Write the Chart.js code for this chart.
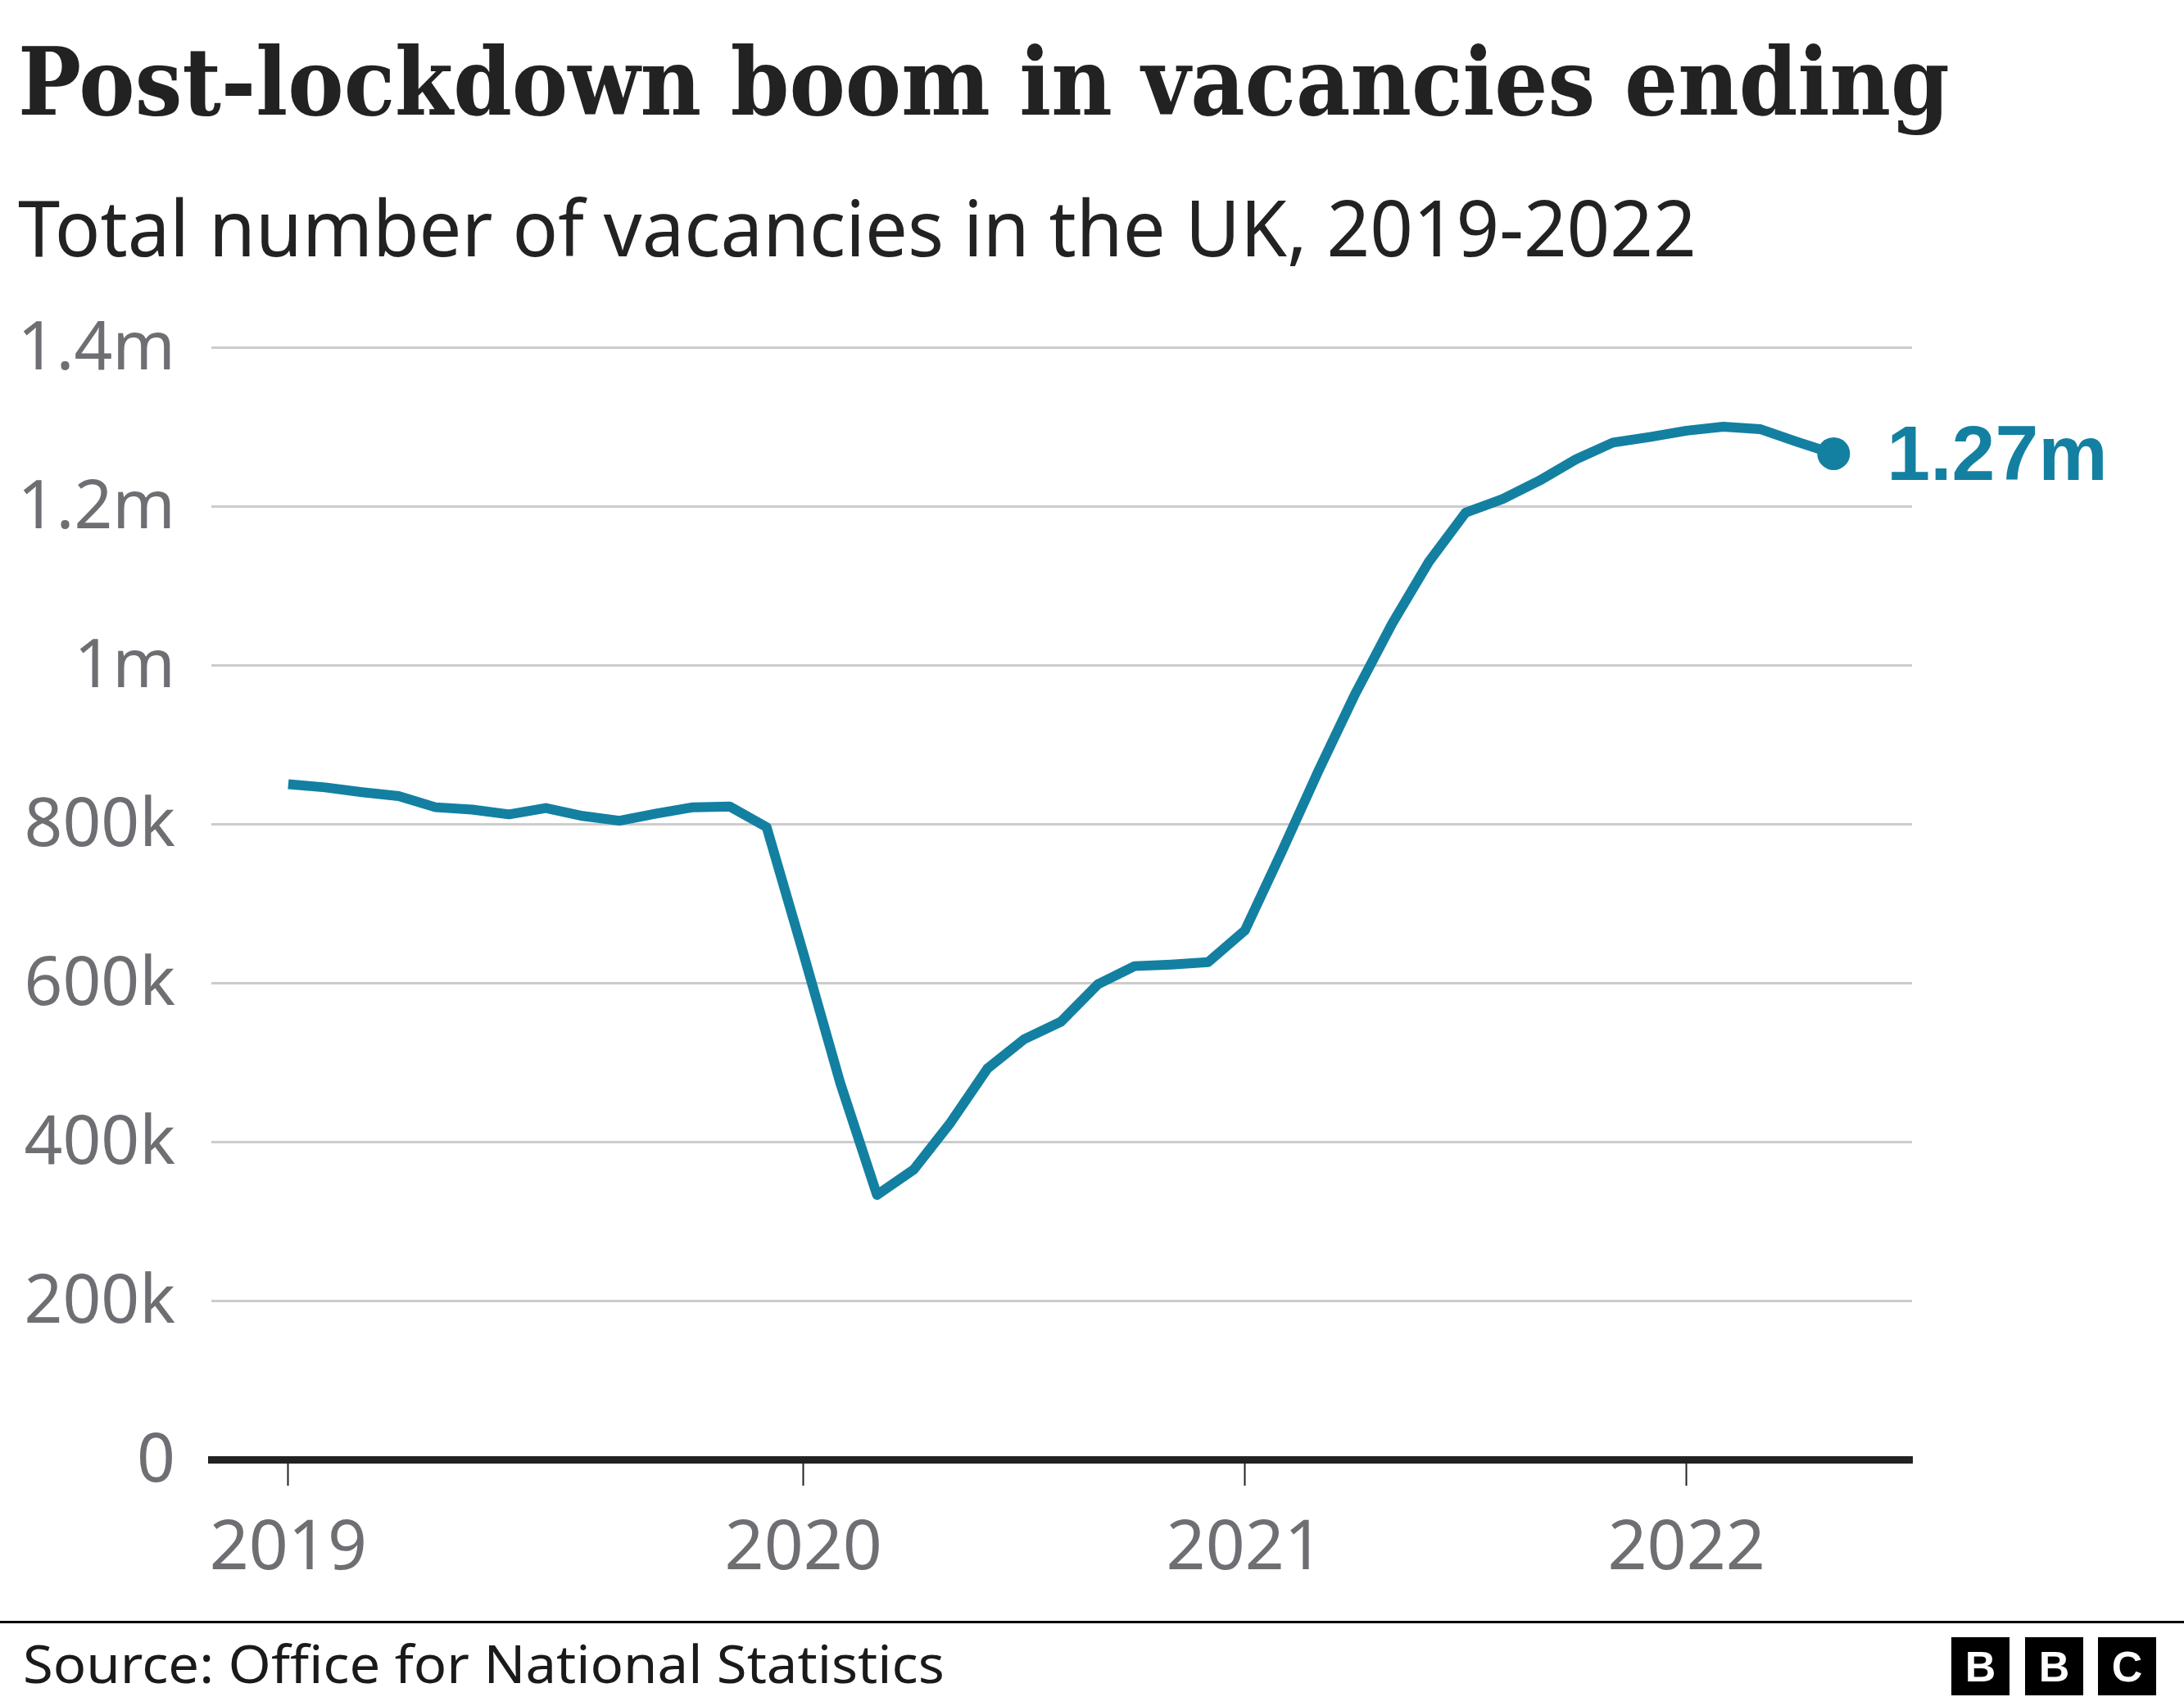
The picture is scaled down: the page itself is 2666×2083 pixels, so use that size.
<!DOCTYPE html>
<html>
<head>
<meta charset="utf-8">
<script src="https://cdn.jsdelivr.net/npm/chart.js@4.4.1/dist/chart.umd.min.js"></script>
<style>
  html, body { margin: 0; padding: 0; background: #fff; }
  body { width: 2666px; height: 2083px; position: relative; overflow: hidden; }
  .txt { position: absolute; white-space: nowrap; line-height: 1; margin: 0; }
  #chart { position: absolute; left: 0; top: 0; }
  #rule { position: absolute; left: 0; top: 1979px; width: 2666px; height: 3px; background: #000; }
  .bbc { position: absolute; top: 1999px; width: 71px; height: 71px; background: #000; color: #fff;
         font: bold 52px "Liberation Sans"; display: flex; align-items: center; justify-content: center; }
</style>
</head>
<body>
<div id="title" class="txt" style="color:#222">Post-lockdown boom in vacancies ending</div>
<div id="subtitle" class="txt" style="color:#222">Total number of vacancies in the UK, 2019-2022</div>
<canvas id="chart" width="2666" height="1960"></canvas>
<div id="rule"></div>
<div id="source" class="txt" style="color:#1a1a1a">Source: Office for National Statistics</div>
<div class="bbc" style="left:2382px">B</div>
<div class="bbc" style="left:2472px">B</div>
<div class="bbc" style="left:2561px">C</div>

<script>
// monthly rolling 3-month totals, thousands, starting late 2018
const vacancies = [850, 846, 840, 835, 821, 818, 812, 820, 810, 804, 813, 821,
                   822, 796, 637, 474, 333, 365, 424, 492, 529, 551, 598, 621,
                   623, 626, 666, 765, 867, 964, 1052, 1130, 1192, 1209, 1232, 1259,
                   1280, 1287, 1295, 1300, 1297, 1281, 1266];
const xTickPositions = [0, 14, 26, 38];
const xTickLabels = ['2019', '2020', '2021', '2022'];
const yTickLabels = ['0', '200k', '400k', '600k', '800k', '1m', '1.2m', '1.4m'];
const endLabel = '1.27m';

const teal = '#1380a1';
const grey = '#6e6e73';

// --- html text placement (size from cap height, width from ink extents) ---
const mctx = document.createElement('canvas').getContext('2d');

function placeText(id, o) {
  const el = document.getElementById(id);
  const text = el.textContent;
  mctx.font = `${o.weight} 100px ${o.family}`;
  const cap100 = mctx.measureText('H').actualBoundingBoxAscent;
  const size = o.cap / cap100 * 100;
  const font = `${o.weight} ${size}px ${o.family}`;
  mctx.font = font;
  const m = mctx.measureText(text);
  const ink = m.actualBoundingBoxLeft + m.actualBoundingBoxRight;
  const sx = (o.inkRight - o.inkLeft) / ink;
  el.style.font = font;
  el.style.lineHeight = '1';
  el.style.left = (o.inkLeft + m.actualBoundingBoxLeft * sx) + 'px';
  el.style.transformOrigin = '0 0';
  el.style.transform = `scaleX(${sx})`;
  el.style.top = '0px';
  const marker = document.createElement('span');
  marker.style.cssText = 'display:inline-block;width:0;height:0;vertical-align:baseline';
  el.appendChild(marker);
  const off = marker.getBoundingClientRect().top - el.getBoundingClientRect().top;
  el.style.top = (o.baseline - off) + 'px';
}

placeText('title', { family: '"DejaVu Serif"', weight: 'bold', cap: 84, inkLeft: 26, inkRight: 2377, baseline: 140 });
placeText('subtitle', { family: '"Noto Sans"', weight: 'normal', cap: 69, inkLeft: 22, inkRight: 2066, baseline: 313 });
placeText('source', { family: '"Noto Sans"', weight: 'normal', cap: 46, inkLeft: 31, inkRight: 1150, baseline: 2055 });

// --- chart ---
const endLabelPlugin = {
  id: 'endLabel',
  afterDatasetsDraw(chart) {
    const meta = chart.getDatasetMeta(0);
    const pt = meta.data[meta.data.length - 1];
    const ctx = chart.ctx;
    ctx.save();
    ctx.font = 'bold 95px "Liberation Sans", Arial, sans-serif';
    ctx.fillStyle = teal;
    ctx.textAlign = 'left';
    ctx.textBaseline = 'alphabetic';
    const m = ctx.measureText(endLabel);
    const digitH = ctx.measureText('1').actualBoundingBoxAscent;
    ctx.fillText(endLabel, pt.x + 70 + m.actualBoundingBoxLeft, pt.y + digitH / 2);
    ctx.restore();
  }
};

const points = vacancies.map((v, i) => ({ x: i, y: v * 1000 }));

new Chart(document.getElementById('chart').getContext('2d'), {
  type: 'line',
  data: {
    datasets: [{
      data: points,
      borderColor: teal,
      borderWidth: 12,
      borderJoinStyle: 'round',
      borderCapStyle: 'butt',
      tension: 0,
      fill: false,
      pointRadius: ctx => ctx.dataIndex === vacancies.length - 1 ? 20 : 0,
      pointBackgroundColor: teal,
      pointBorderWidth: 0,
      pointHoverRadius: 0
    }]
  },
  options: {
    responsive: false,
    animation: false,
    events: [],
    devicePixelRatio: 1,
    layout: { padding: { left: 0, right: 332, top: 424, bottom: 28 } },
    plugins: { legend: { display: false }, tooltip: { enabled: false }, title: { display: false } },
    scales: {
      x: {
        type: 'linear',
        min: -2.09,
        max: 44.13,
        afterBuildTicks: scale => { scale.ticks = xTickPositions.map(v => ({ value: v })); },
        afterFit: scale => { scale.height = 150; },
        grid: { drawOnChartArea: false, drawTicks: true, tickLength: 32, tickColor: '#222', tickWidth: 2 },
        border: { display: true, color: '#222', width: 9 },
        ticks: {
          autoSkip: false,
          maxRotation: 0,
          padding: 28,
          color: grey,
          font: { family: 'Noto Sans', size: 84 },
          callback: v => xTickLabels[xTickPositions.indexOf(v)]
        }
      },
      y: {
        min: 0,
        max: 1400000,
        afterFit: scale => { scale.width = 258; },
        grid: { color: '#cccccc', lineWidth: 3, drawTicks: false },
        border: { display: false },
        ticks: {
          stepSize: 200000,
          padding: 44,
          labelOffset: 4,
          color: grey,
          font: { family: 'Noto Sans', size: 82 },
          callback: v => yTickLabels[Math.round(v / 200000)]
        }
      }
    }
  },
  plugins: [endLabelPlugin]
});
</script>
</body>
</html>
